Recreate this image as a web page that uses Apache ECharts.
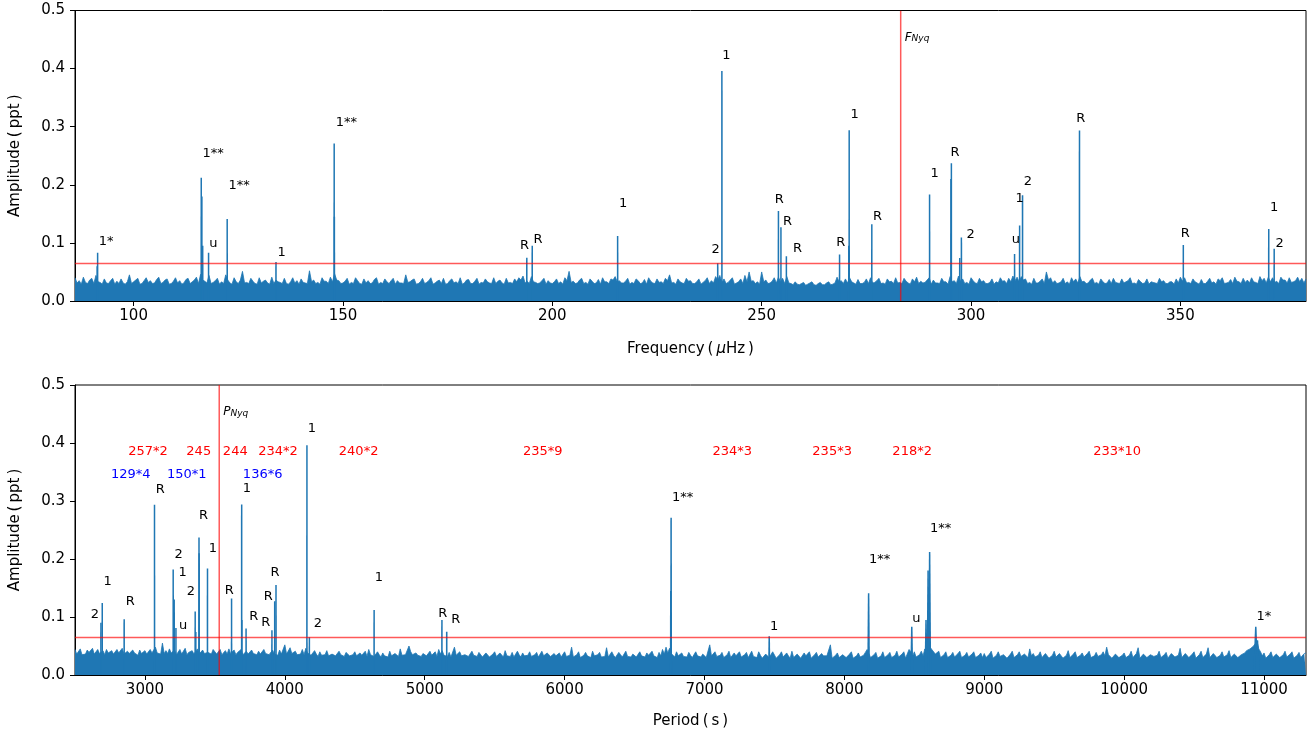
<!DOCTYPE html>
<html>
<head>
<meta charset="utf-8">
<script src="https://cdn.jsdelivr.net/npm/echarts/dist/echarts.min.js"></script>
<style>
  html, body { margin: 0; padding: 0; background: #fff; }
  #chart { width: 1314px; height: 734px; }
</style>
</head>
<body>
<div id="chart"></div>
<script>
// Amplitude spectrum of the light curve, shown twice: against frequency and against period.

// Nyquist frequency (µHz) and detection threshold (ppt)
const fNyq = 283.2;
const ampLimit = 0.0645;

// Identified peaks: frequency (µHz), amplitude (ppt), classification tag
const peakFreq = [91.4, 116.15, 117.9, 122.35, 134.0, 147.9, 193.9, 195.2, 215.6, 239.5, 240.5,
  254.0, 254.6, 255.9, 268.6, 270.9, 276.3, 290.1, 295.3, 297.7, 310.4, 311.6, 312.3, 325.9,
  350.7, 371.1, 372.4];
const peakAmp = [0.083, 0.212, 0.083, 0.141, 0.067, 0.271, 0.0745, 0.095, 0.112, 0.065, 0.396,
  0.155, 0.127, 0.077, 0.080, 0.294, 0.132, 0.1835, 0.237, 0.1095, 0.081, 0.130, 0.182, 0.2935,
  0.0963, 0.124, 0.090];
const peakTag = ['1*', '1**', 'u', '1**', '1', '1**', 'R', 'R', '1', '2', '1',
  'R', 'R', 'R', 'R', '1', 'R', '1', 'R', '2', 'u', '1', '2', 'R',
  'R', '1', '2'];

// Unlabelled side lobes next to some of the peaks
const sideFreq = [91.3, 116.3, 116.5, 147.95, 270.8, 295.2, 297.3];
const sideAmp = [0.060, 0.180, 0.095, 0.145, 0.095, 0.210, 0.074];

// Tag anchors (left edge, baseline) in each panel, same order as the peaks
const freqTagAt = [[91.65, 0.096], [116.46, 0.248], [118.06, 0.093], [122.67, 0.192], [134.36, 0.077],
  [148.29, 0.3015], [192.3, 0.089], [195.5, 0.099], [215.9, 0.162], [238.0, 0.082], [240.6, 0.417],
  [253.1, 0.169], [255.1, 0.130], [257.5, 0.084], [267.8, 0.095], [271.2, 0.314], [276.6, 0.139],
  [290.3, 0.213], [295.1, 0.250], [298.9, 0.109], [309.7, 0.099], [310.6, 0.170], [312.6, 0.1995],
  [325.1, 0.308], [350.1, 0.1095], [371.4, 0.155], [372.7, 0.0934]];
const periodTagAt = [[10946, 0.095], [8612, 0.247], [8486, 0.092], [8176, 0.1925], [7469, 0.0776],
  [6767, 0.3006], [5189, 0.090], [5096, 0.1006], [4643, 0.1626], [4207, 0.082], [4164, 0.4195],
  [3898, 0.171], [3850, 0.129], [3832, 0.0845], [3746, 0.0948], [3700, 0.315], [3571, 0.1397],
  [3457, 0.2126], [3386, 0.269], [3298, 0.138], [3243, 0.079], [3240, 0.171], [3212, 0.201],
  [3077, 0.314], [2862, 0.121], [2703, 0.155], [2612, 0.098]];

// Period-spacing groups (red) and series (blue) written above the period panel
const redGroupText = ['257*2', '245', '244', '234*2', '240*2', '235*9', '234*3', '235*3', '218*2', '233*10'];
const redGroupPeriod = [2881, 3296, 3557, 3810, 4386, 5703, 7057, 7771, 8343, 9779];
const redGroupAmp = 0.379;
const blueGroupText = ['129*4', '150*1', '136*6'];
const blueGroupPeriod = [2757, 3157, 3700];
const blueGroupAmp = 0.339;

// Tick labels
const freqTicks = [100, 150, 200, 250, 300, 350];
const periodTicks = [3000, 4000, 5000, 6000, 7000, 8000, 9000, 10000, 11000];
const ampTicks = [0, 0.1, 0.2, 0.3, 0.4, 0.5];

// Noise floor vs frequency, 0.5 µHz steps from 86 µHz, in units of 0.001 ppt
const noiseFreqStart = 86, noiseFreqStep = 0.5;
const noiseFreqAmp = [
  40,31,35,29,41,32,30,36,39,30,44,33,32,29,38,31,30,35,39,29,
  34,30,38,31,29,33,45,30,33,36,39,29,30,35,40,32,35,30,31,37,
  41,30,32,36,38,29,30,34,40,31,35,29,31,37,39,30,33,36,41,30,
  46,36,34,31,44,30,32,35,39,29,33,30,45,36,31,29,40,33,30,36,
  51,31,32,30,39,34,30,29,40,31,34,36,31,29,41,30,36,33,32,30,
  39,30,29,33,40,31,35,29,38,32,31,30,52,33,36,30,32,29,40,34,
  34,30,41,33,47,36,35,30,31,34,39,29,32,30,40,35,30,29,38,31,
  35,30,31,37,40,29,32,30,38,33,30,35,39,29,35,31,31,30,45,32,
  33,36,38,29,30,33,39,30,32,35,40,29,31,34,36,30,39,29,30,35,
  38,31,33,30,40,29,31,36,37,30,30,34,39,29,32,31,38,33,31,30,
  40,30,34,36,31,29,39,31,32,30,38,33,40,36,43,31,34,30,42,33,
  32,30,31,35,39,29,35,31,30,33,38,30,33,29,40,35,51,32,34,30,
  31,36,39,30,32,29,38,34,30,31,37,29,40,33,33,30,38,36,42,33,
  35,31,31,34,39,29,32,30,38,35,30,31,37,29,40,34,31,30,38,32,
  33,30,39,35,45,31,32,29,38,33,31,30,39,34,35,30,30,33,38,29,
  32,35,40,30,35,31,42,36,44,32,38,30,32,36,40,29,31,33,38,30,
  44,33,50,34,35,30,33,29,50,33,36,30,31,34,40,31,41,33,39,30,
  42,31,30,28,33,29,28,30,32,27,29,31,33,28,27,30,32,28,28,31,
  33,28,29,31,41,33,35,30,38,31,40,33,31,29,37,30,30,32,38,30,
  40,31,32,35,39,30,31,29,38,33,34,30,40,31,32,30,39,34,31,29,
  38,33,41,30,34,31,32,36,40,29,36,31,31,30,39,33,33,29,42,33,
  35,30,43,34,38,30,32,29,40,35,31,30,39,33,35,30,30,32,38,29,
  33,31,40,34,35,30,39,33,43,35,41,33,42,36,38,30,32,29,39,31,
  31,34,38,30,50,36,40,31,35,30,31,33,39,30,33,29,40,33,38,31,
  42,33,34,30,31,36,39,30,32,29,38,33,30,31,37,30,39,32,31,30,
  38,31,33,35,40,30,31,29,37,33,30,31,38,29,33,32,31,30,39,33,
  35,30,30,33,33,29,38,31,41,34,40,31,32,30,38,33,31,29,37,30,
  30,34,39,31,33,29,38,35,40,30,31,32,37,30,41,34,33,30,39,32,
  36,31,40,33,32,30,42,35,39,31,41,33,40,32,34,30,41,36,36,31,
  40,32,33,35,41,33,39,31,38
];

// Noise floor vs period, 12.5 s steps from 2500 s, in units of 0.001 ppt
const noisePeriodStart = 2500, noisePeriodStep = 12.5;
const noisePeriodAmp = [
  44,36,38,45,35,37,36,43,39,37,46,36,40,44,37,36,42,35,44,38,37,42,36,35,44,38,37,46,36,35,41,37,36,43,38,35,34,43,37,35,
  42,36,35,44,38,36,48,38,37,36,55,37,42,37,45,38,36,43,35,37,44,36,37,46,35,39,38,42,36,37,45,36,35,43,37,35,39,41,36,44,
  43,36,37,44,35,38,42,36,45,37,36,43,35,39,36,44,35,37,41,36,35,43,37,36,35,41,36,34,44,37,40,35,37,43,36,35,34,43,36,35,
  52,36,35,47,37,34,41,35,33,36,44,35,46,38,39,34,33,42,36,32,40,34,33,35,42,33,31,36,39,33,32,41,35,33,32,39,41,33,32,35,
  40,33,31,38,34,33,41,32,44,35,38,32,32,40,35,31,38,33,34,31,41,33,32,37,39,32,45,34,33,35,34,50,40,35,32,38,34,31,32,37,
  39,33,32,41,34,31,40,32,44,36,42,34,35,32,39,31,33,48,34,31,40,33,31,35,38,32,33,41,34,31,32,39,36,31,32,38,40,31,33,36,
  40,32,33,38,35,31,42,33,34,32,39,31,32,41,35,31,38,33,31,34,40,32,34,35,39,31,32,41,33,31,38,35,32,31,37,33,31,38,31,33,
  40,32,33,34,48,31,32,35,40,30,31,34,39,33,32,30,41,33,30,35,39,31,33,32,47,31,32,40,34,30,31,39,35,31,33,41,32,30,31,36,
  39,31,32,40,33,30,31,38,34,31,41,33,32,30,39,33,44,36,48,38,46,37,35,31,40,33,31,38,32,30,31,39,34,30,32,40,33,30,31,36,
  39,30,31,52,33,31,40,32,30,34,39,30,31,35,41,30,31,38,33,30,40,31,29,35,39,30,33,41,32,30,30,40,34,29,31,36,38,30,33,40,
  39,29,30,35,40,31,30,38,33,29,41,30,31,36,39,29,30,38,33,31,40,29,30,35,39,31,30,37,33,31,33,30,52,29,31,34,38,30,30,35,
  38,30,31,36,40,29,30,33,38,31,32,34,39,44,46,30,31,35,39,29,30,33,40,30,31,35,39,30,30,34,41,31,30,36,40,29,31,44,40,32,
  40,31,32,35,41,33,45,36,52,48,44,42,36,33,41,30,31,35,40,30,29,34,39,31,32,37,41,30,29,34,39,31,30,36,40,30,31,34,38,30,
  37,30,33,36,41,29,31,34,40,32,30,35,38,29,31,36,41,30,29,35,40,32,31,36,38,30,45,33,37,31,29,34,40,30,32,37,39,29,31,34,
  41,31,30,37,38,29,32,34,42,30,31,36,40,30,29,34,38,31,30,37,41,30,31,33,39,32,30,35,40,33,48,35,37,29,31,36,39,30,32,34,
  38,30,31,34,41,30,32,37,47,29,31,36,39,30,31,35,38,32,30,34,41,30,31,35,39,29,32,37,40,31,30,34,46,30,31,37,39,30,29,36,
  40,29,32,35,41,30,31,36,47,30,31,37,39,30,29,34,40,31,30,35,42,30,29,36,39,30,31,35,38,38,42,40,45,44,50,47,58,45,40,33,
  38,29,31,35,40,30,32,36,39,30,29,35,41,31,30,36,40,29,31,34,39,30,32,37,38
];

// ---------------------------------------------------------------------------
const FONT = 'DejaVu Sans';
const BLUE = '#1f77b4';
const LIMIT_RED = 'rgba(255,0,0,0.65)';
const PEAK_HALF_WIDTH = 0.15; // µHz, half width of a drawn peak at its base

const toPeriod = f => 1e6 / f;
const toFreq = f => f;

const allFreq = peakFreq.concat(sideFreq);
const allAmp = peakAmp.concat(sideAmp);

const chart = echarts.init(document.getElementById('chart'), null, { renderer: 'canvas' });

function noiseSeries(idx, start, step, values) {
  return {
    type: 'line',
    xAxisIndex: idx, yAxisIndex: idx,
    data: values.map((a, i) => [start + i * step, a / 1000]),
    showSymbol: false, symbol: 'none', sampling: 'none',
    lineStyle: { color: BLUE, width: 0.8 },
    itemStyle: { color: BLUE },
    areaStyle: { color: BLUE, opacity: 1 },
    z: 2, silent: true, animation: false
  };
}

// Detection threshold (horizontal) and Nyquist limit (vertical), drawn over the noise
function limitSeries(idx, nyqX) {
  return {
    type: 'custom',
    xAxisIndex: idx, yAxisIndex: idx,
    z: 4, silent: true, animation: false, clip: true,
    data: [[nyqX, ampLimit]],
    encode: { x: 0, y: 1 },
    renderItem(params, api) {
      const cs = params.coordSys;
      const p = api.coord([api.value(0), api.value(1)]);
      const style = { stroke: LIMIT_RED, lineWidth: 1.5, fill: null };
      return {
        type: 'group',
        children: [
          { type: 'line', shape: { x1: cs.x, y1: p[1], x2: cs.x + cs.width, y2: p[1] }, style },
          { type: 'line', shape: { x1: p[0], y1: cs.y, x2: p[0], y2: cs.y + cs.height }, style }
        ]
      };
    }
  };
}

function peakSeries(idx, toX) {
  return {
    type: 'custom',
    xAxisIndex: idx, yAxisIndex: idx,
    z: 3, silent: true, animation: false, clip: true,
    data: allFreq.map((f, i) => [toX(f), allAmp[i], toX(f - PEAK_HALF_WIDTH), toX(f + PEAK_HALF_WIDTH)]),
    encode: { x: 0, y: 1 },
    renderItem(params, api) {
      const top = api.coord([api.value(0), api.value(1)]);
      const base = api.coord([api.value(0), 0]);
      const a = api.coord([api.value(2), 0])[0];
      const b = api.coord([api.value(3), 0])[0];
      const hw = Math.max(0.8, Math.abs(b - a) / 2);
      return {
        type: 'polygon',
        shape: { points: [[top[0] - 0.75, top[1]], [top[0] + 0.75, top[1]], [base[0] + hw, base[1]], [base[0] - hw, base[1]]] },
        style: { fill: BLUE }
      };
    }
  };
}

function textSeries(idx, anchors, texts, color) {
  return {
    type: 'custom',
    xAxisIndex: idx, yAxisIndex: idx,
    z: 5, silent: true, animation: false, clip: false,
    data: anchors.map(p => [p[0], p[1]]),
    encode: { x: 0, y: 1 },
    renderItem(params, api) {
      const p = api.coord([api.value(0), api.value(1)]);
      return {
        type: 'text',
        x: p[0], y: p[1] + 3,
        style: {
          text: texts[params.dataIndex],
          fill: color,
          font: '13px "' + FONT + '"',
          align: 'left', verticalAlign: 'bottom',
          textAlign: 'left', textVerticalAlign: 'bottom'
        }
      };
    }
  };
}

function nyqLabelSeries(idx, x, letter) {
  return {
    type: 'custom',
    xAxisIndex: idx, yAxisIndex: idx,
    z: 5, silent: true, animation: false, clip: false,
    data: [[x, 0.457]],
    encode: { x: 0, y: 1 },
    renderItem(params, api) {
      const p = api.coord([api.value(0), api.value(1)]);
      return {
        type: 'text',
        x: p[0] + 4, y: p[1],
        style: {
          text: '{a|' + letter + '}{b|Nyq}',
          align: 'left', verticalAlign: 'middle',
          textAlign: 'left', textVerticalAlign: 'middle',
          rich: {
            a: { fontFamily: FONT, fontSize: 12, fontStyle: 'italic', fill: '#000', color: '#000', lineHeight: 16, verticalAlign: 'bottom' },
            b: { fontFamily: FONT, fontSize: 9, fontStyle: 'italic', fill: '#000', color: '#000', lineHeight: 9, verticalAlign: 'bottom' }
          }
        }
      };
    }
  };
}

function xAxis(idx, min, max, ticks, name, gap) {
  return {
    type: 'value', gridIndex: idx, min, max,
    name, nameLocation: 'middle', nameGap: gap,
    nameTextStyle: {
      fontFamily: FONT, fontSize: 15, color: '#000',
      rich: {
        n: { fontFamily: FONT, fontSize: 15, color: '#000' },
        i: { fontFamily: FONT, fontSize: 15, color: '#000', fontStyle: 'italic' }
      }
    },
    axisLine: { show: true, onZero: false, lineStyle: { color: '#000', width: 1 } },
    axisTick: { show: true, inside: false, length: 5, customValues: ticks, lineStyle: { color: '#000' } },
    axisLabel: { show: true, customValues: ticks, margin: 8, fontFamily: FONT, fontSize: 15, color: '#000',
      formatter: v => String(v) },
    splitLine: { show: false },
    minorTick: { show: false }
  };
}

function yAxis(idx, name) {
  return {
    type: 'value', gridIndex: idx, min: 0, max: 0.5, interval: 0.1,
    name, nameLocation: 'middle', nameRotate: 90, nameGap: 52,
    nameTextStyle: { fontFamily: FONT, fontSize: 15, color: '#000' },
    axisLine: { show: true, lineStyle: { color: '#000', width: 1 } },
    axisTick: { show: true, inside: false, length: 5, customValues: ampTicks, lineStyle: { color: '#000' } },
    axisLabel: { show: true, customValues: ampTicks, margin: 10, fontFamily: FONT, fontSize: 15, color: '#000',
      formatter: v => v.toFixed(1) },
    splitLine: { show: false }
  };
}

const option = {
  animation: false,
  backgroundColor: '#fff',
  grid: [
    { left: 75, top: 10.5, width: 1231, height: 290.5, show: true, borderColor: '#000', borderWidth: 1, backgroundColor: 'transparent' },
    { left: 75, top: 385, width: 1231, height: 290, show: true, borderColor: '#000', borderWidth: 1, backgroundColor: 'transparent' }
  ],
  xAxis: [
    xAxis(0, 86, 380, freqTicks, '{n|Frequency\u2009(\u2009}{i|\u03bc}{n|Hz\u2009)}', 41),
    xAxis(1, 2500, 11300, periodTicks, 'Period\u2009(\u2009s\u2009)', 39)
  ],
  yAxis: [
    yAxis(0, 'Amplitude\u2009(\u2009ppt\u2009)'),
    yAxis(1, 'Amplitude\u2009(\u2009ppt\u2009)')
  ],
  series: [
    noiseSeries(0, noiseFreqStart, noiseFreqStep, noiseFreqAmp),
    peakSeries(0, toFreq),
    limitSeries(0, fNyq),
    textSeries(0, freqTagAt, peakTag, '#000'),
    nyqLabelSeries(0, fNyq, 'F'),

    noiseSeries(1, noisePeriodStart, noisePeriodStep, noisePeriodAmp),
    peakSeries(1, toPeriod),
    limitSeries(1, toPeriod(fNyq)),
    textSeries(1, periodTagAt, peakTag, '#000'),
    textSeries(1, redGroupPeriod.map(p => [p, redGroupAmp]), redGroupText, '#ff0000'),
    textSeries(1, blueGroupPeriod.map(p => [p, blueGroupAmp]), blueGroupText, '#0000ff'),
    nyqLabelSeries(1, toPeriod(fNyq), 'P')
  ]
};

chart.setOption(option);
</script>
</body>
</html>
